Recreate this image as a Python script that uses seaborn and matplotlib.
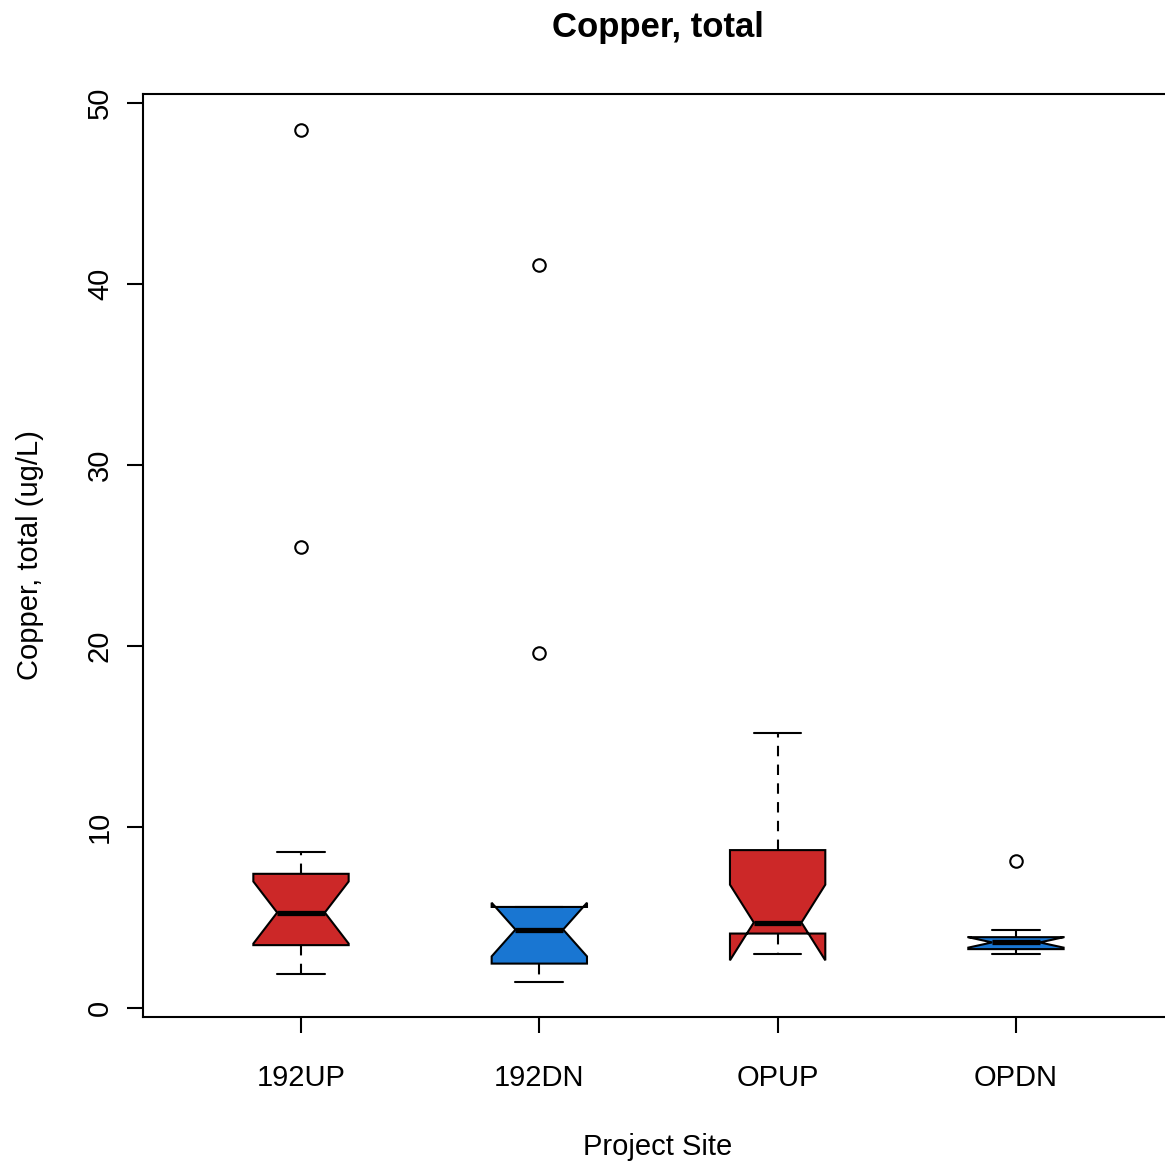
import numpy as np
import pandas as pd
import matplotlib
matplotlib.use("Agg")
import matplotlib.pyplot as plt
import seaborn as sns

# ---- data ----
sites = ["192UP", "192DN", "OPUP", "OPDN"]
copper_192up = [1.86, 2.60, 3.10, 3.47, 4.20, 4.80, 5.27, 5.90, 6.60, 7.41, 8.62, 25.47, 48.52]
copper_192dn = [1.44, 2.10, 2.45, 2.45, 3.50, 4.33, 4.90, 5.58, 5.58, 19.61, 41.05]
copper_opup = [3.00, 3.50, 4.11, 4.11, 4.40, 4.72, 4.72, 6.90, 8.72, 8.72, 11.20, 15.20]
copper_opdn = [3.00, 3.06, 3.14, 3.25, 3.38, 3.50, 3.62, 3.70, 3.80, 3.91, 4.10, 4.33, 8.11]
box_colors = ["#CC2828", "#1976D2", "#CC2828", "#1976D2"]
y_ticks = [0, 10, 20, 30, 40, 50]

groups = [copper_192up, copper_192dn, copper_opup, copper_opdn]
df = pd.DataFrame({
    "site": np.repeat(sites, [len(g) for g in groups]),
    "copper": np.concatenate(groups),
})

sns.set_theme(style="white")
plt.rcParams["font.family"] = ["Liberation Sans", "DejaVu Sans"]

W, H = 1165, 1166
fig = plt.figure(figsize=(W / 100, H / 100), dpi=100)
left, right, top, bottom = 143, 1173, 94, 1017
ax = fig.add_axes([left / W, 1 - bottom / H, (right - left) / W, (bottom - top) / H])

sns.boxplot(
    data=df, x="site", y="copper", hue="site", order=sites, hue_order=sites,
    palette=box_colors, saturation=1, width=0.4, notch=True,
    linecolor="black", linewidth=1.5, legend=False, ax=ax,
    whiskerprops=dict(linestyle=(0, (5, 4))),
    medianprops=dict(linewidth=3.8, color="black"),
    flierprops=dict(marker="o", markersize=9, markerfacecolor="none",
                    markeredgecolor="black", markeredgewidth=1.5),
)

ax.set_xlim(-0.663, 3.659)
ax.set_ylim(-0.50, 50.49)
ax.set_yticks(y_ticks)
ax.set_yticklabels([str(t) for t in y_ticks])

for s in ax.spines.values():
    s.set_color("black")
    s.set_linewidth(1.5)

ax.tick_params(axis="both", which="both", length=11.5, width=1.5,
               labelsize=21, colors="black", direction="out")
ax.tick_params(axis="y", pad=9.4, left=True)
ax.tick_params(axis="x", pad=22.0, bottom=True)
plt.setp(ax.get_yticklabels(), rotation=90, va="center")

ax.set_xlabel("Project Site", fontsize=21, color="black")
ax.set_ylabel("Copper, total (ug/L)", fontsize=21, color="black")
ax.xaxis.set_label_coords(0.5, (bottom - 1133) / (bottom - top))
ax.yaxis.set_label_coords((44.3 - left) / (right - left), 0.5)

fig.text(658 / W, 1 - 37 / H, "Copper, total", ha="center", va="baseline",
         fontsize=25, fontweight="bold", color="black")

fig.savefig("out.png", dpi=100)
